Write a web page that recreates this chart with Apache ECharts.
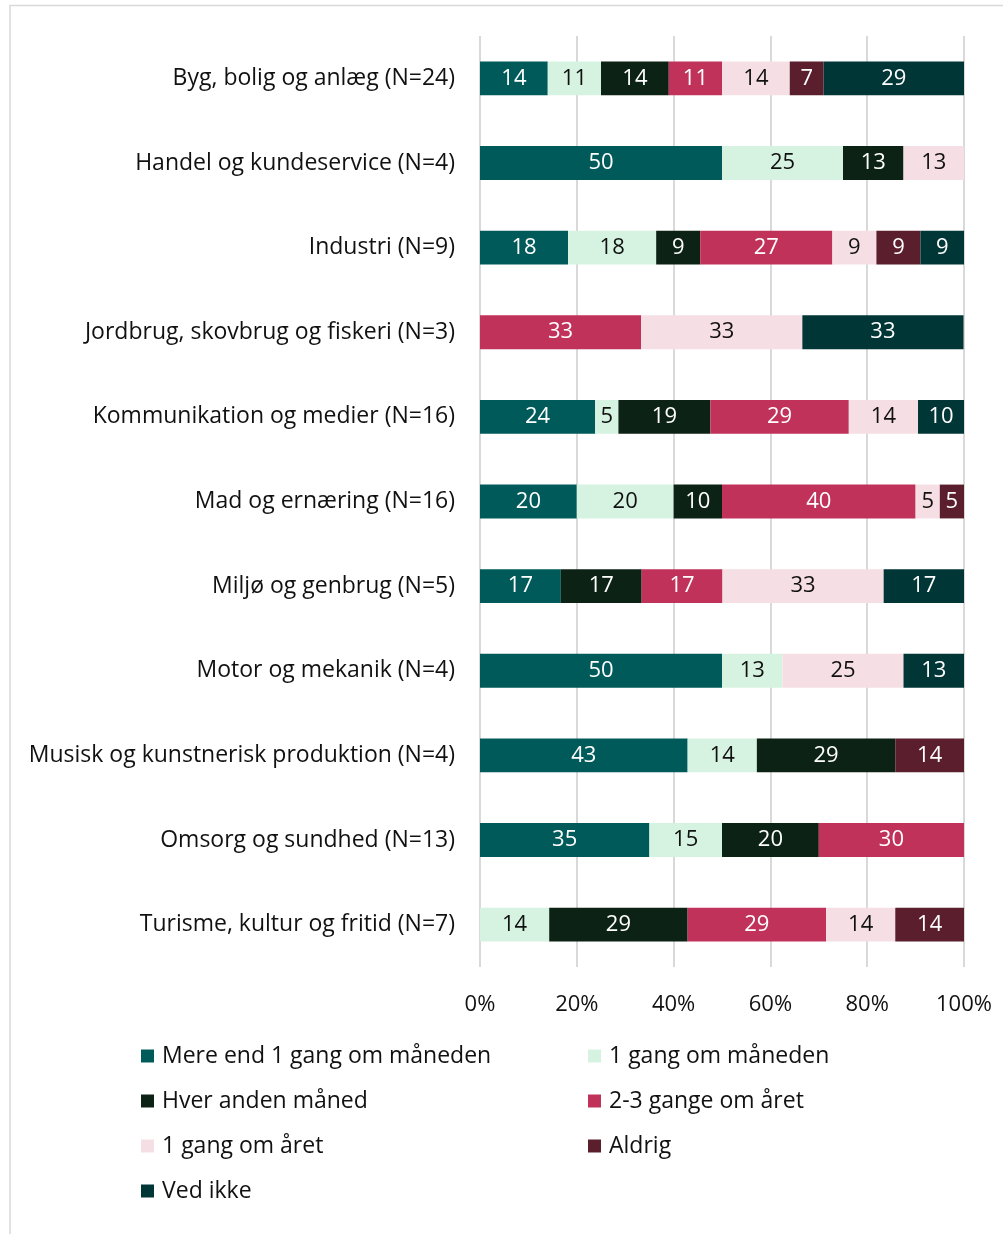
<!DOCTYPE html>
<html>
<head>
<meta charset="utf-8">
<script src="https://cdn.jsdelivr.net/npm/echarts@6/dist/echarts.min.js"></script>
<style>
  html, body { margin: 0; padding: 0; background: #fff; }
  #chart { width: 1003px; height: 1234px; }
</style>
</head>
<body>
<div id="chart"></div>
<script>
// kategorier (top -> bund)
var categories = [
  'Byg, bolig og anlæg (N=24)',
  'Handel og kundeservice (N=4)',
  'Industri (N=9)',
  'Jordbrug, skovbrug og fiskeri (N=3)',
  'Kommunikation og medier (N=16)',
  'Mad og ernæring (N=16)',
  'Miljø og genbrug (N=5)',
  'Motor og mekanik (N=4)',
  'Musisk og kunstnerisk produktion (N=4)',
  'Omsorg og sundhed (N=13)',
  'Turisme, kultur og fritid (N=7)'
];

// andele i procent pr. svarkategori
var merEnd1   = [14, 50, 18.2, null, 23.8, 20, 16.7, 50, 42.9, 35, null];
var enGangMd  = [11, 25, 18.2, null, 4.8, 20, null, 12.5, 14.3, 15, 14.3];
var hverAnden = [14, 12.5, 9.1, null, 19.0, 10, 16.7, null, 28.6, 20, 28.6];
var toTreAar  = [11, null, 27.3, 33.3, 28.6, 40, 16.7, null, null, 30, 28.6];
var enGangAar = [14, 12.5, 9.1, 33.3, 14.3, 5, 33.3, 25, null, null, 14.3];
var aldrig    = [7, null, 9.1, null, null, 5, null, null, 14.3, null, 14.3];
var vedIkke   = [29, null, 9.1, 33.3, 9.5, null, 16.7, 12.5, null, null, null];

var ticks = [0, 20, 40, 60, 80, 100];

var seriesDefs = [
  { name: 'Mere end 1 gang om måneden', data: merEnd1,   color: '#005a5a', text: '#fff' },
  { name: '1 gang om måneden',          data: enGangMd,  color: '#d6f3e2', text: '#111' },
  { name: 'Hver anden måned',           data: hverAnden, color: '#0c2214', text: '#fff' },
  { name: '2-3 gange om året',          data: toTreAar,  color: '#c0325a', text: '#fff' },
  { name: '1 gang om året',             data: enGangAar, color: '#f5dfe4', text: '#111' },
  { name: 'Aldrig',                     data: aldrig,    color: '#5a1e2d', text: '#fff' },
  { name: 'Ved ikke',                   data: vedIkke,   color: '#003636', text: '#fff' }
];

var font = 'Open Sans';

var chart = echarts.init(document.getElementById('chart'));

var legendText = { fontFamily: font, fontSize: 23, color: '#111', lineHeight: 26, padding: [0, 0, 0, 3] };

var option = {
  animation: false,
  textStyle: { fontFamily: font },
  graphic: [{
    type: 'rect',
    shape: { x: 10, y: 5.5, width: 1010, height: 1260 },
    style: { fill: 'none', stroke: '#d9d9d9', lineWidth: 1.5 },
    silent: true
  }],
  grid: { left: 480, right: 39, top: 36, bottom: 267 },
  legend: [
    {
      orient: 'vertical', left: 136, top: 1038,
      icon: 'rect', itemWidth: 13, itemHeight: 13, itemGap: 19,
      textStyle: legendText,
      data: [seriesDefs[0].name, seriesDefs[2].name, seriesDefs[4].name, seriesDefs[6].name]
    },
    {
      orient: 'vertical', left: 583, top: 1038,
      icon: 'rect', itemWidth: 13, itemHeight: 13, itemGap: 19,
      textStyle: legendText,
      data: [seriesDefs[1].name, seriesDefs[3].name, seriesDefs[5].name]
    }
  ],
  xAxis: {
    type: 'value', min: 0, max: 100, interval: 20,
    axisLine: { show: false }, axisTick: { show: false },
    splitLine: { lineStyle: { color: '#d9d9d9', width: 2 } },
    axisLabel: {
      margin: 27, fontSize: 22, color: '#111', fontFamily: font,
      formatter: function (v) { return ticks.indexOf(v) >= 0 ? v + '%' : ''; }
    }
  },
  yAxis: {
    type: 'category', inverse: true, data: categories,
    axisLine: { show: false }, axisTick: { show: false },
    axisLabel: { margin: 25, fontSize: 23, color: '#111', fontFamily: font, padding: [2, 0, 0, 0] }
  },
  series: seriesDefs.map(function (s) {
    return {
      name: s.name, type: 'bar', stack: 'total', barWidth: '40%',
      data: s.data,
      itemStyle: { color: s.color },
      label: {
        show: true, position: 'inside', fontSize: 22, fontFamily: font, color: s.text,
        padding: [2, 0, 0, 0],
        formatter: function (p) { return p.value == null ? '' : Math.round(p.value); }
      }
    };
  })
};

chart.setOption(option);
</script>
</body>
</html>
